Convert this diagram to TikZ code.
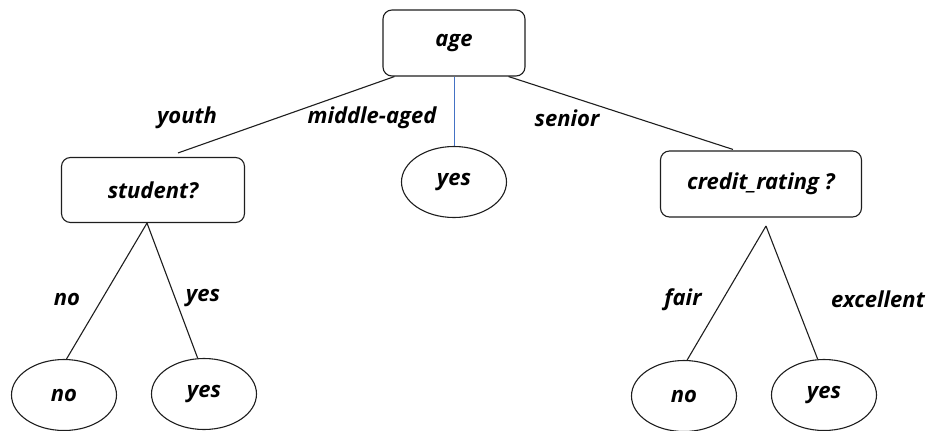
\documentclass[tikz,border=0pt]{standalone}
\usepackage{fontspec}
\setmainfont{Open Sans}
\usetikzlibrary{positioning,shapes.geometric}
\definecolor{edgeblue}{RGB}{68,114,196}
\definecolor{inkgray}{RGB}{30,30,30}
\tikzset{
  txt/.style={font=\fontsize{22}{26}\selectfont\bfseries\itshape, text=black},
  testbox/.style={draw=inkgray, rounded corners=9pt, line width=1.1pt, txt,
                  inner sep=0pt},
  leaf/.style={draw=inkgray, ellipse, line width=1.1pt, txt, inner sep=0pt,
               minimum width=105pt, minimum height=71pt},
  branch/.style={draw=inkgray, line width=1.1pt},
  branchlabel/.style={txt},
}

\begin{document}
\begin{tikzpicture}[x=1pt, y=-1pt]
\useasboundingbox (0,0) rectangle (930,431);

% ================= root =================
\node[testbox, minimum width=142pt, minimum height=66pt] (age) at (454,43) {age};

% ================= second level =================
\node[testbox, minimum width=183pt, minimum height=65pt] (student) at (153,190) {student?};
\node[leaf] (yesmid) at (454,182) {yes};
\node[testbox, minimum width=201pt, minimum height=66pt] (credit) at (761,184) {credit\_rating ?};

\draw[branch] ([xshift=12pt]age.south west) -- ([xshift=25pt,yshift=4pt]student.north);
\draw[branch, draw=edgeblue, line width=0.9pt] (age.south) -- (yesmid.north);
\draw[branch] ([xshift=-17pt]age.south east) -- ([xshift=-28pt,yshift=1pt]credit.north);

\node[branchlabel] (lyouth) at (187,118) {youth};
\node[branchlabel] (lmiddle) at (372,118) {middle-aged};
\node[branchlabel] (lsenior) at (567,118) {senior};

% ================= leaves under student? =================
\node[leaf] (stno) at (64,395) {no};
\node[leaf] (styes) at (204,394) {yes};

\draw[branch] ([xshift=-6pt]student.south) -- (stno.86);
\draw[branch] ([xshift=-6pt]student.south) -- (styes.100);

\node[branchlabel] (lstno) at (67,299) {no};
\node[branchlabel] (lstyes) at (203,298) {yes};

% ================= leaves under credit_rating ? =================
\coordinate (crsplit) at (766,226);
\node[leaf] (crno) at (684,396) {no};
\node[leaf] (cryes) at (824,395) {yes};

\draw[branch] (crsplit) -- (crno.85);
\draw[branch] (crsplit) -- (cryes.100);

\node[branchlabel] (lfair) at (683,300) {fair};
\node[branchlabel] (lexcellent) at (878,299) {excellent};
\end{tikzpicture}
\end{document}
